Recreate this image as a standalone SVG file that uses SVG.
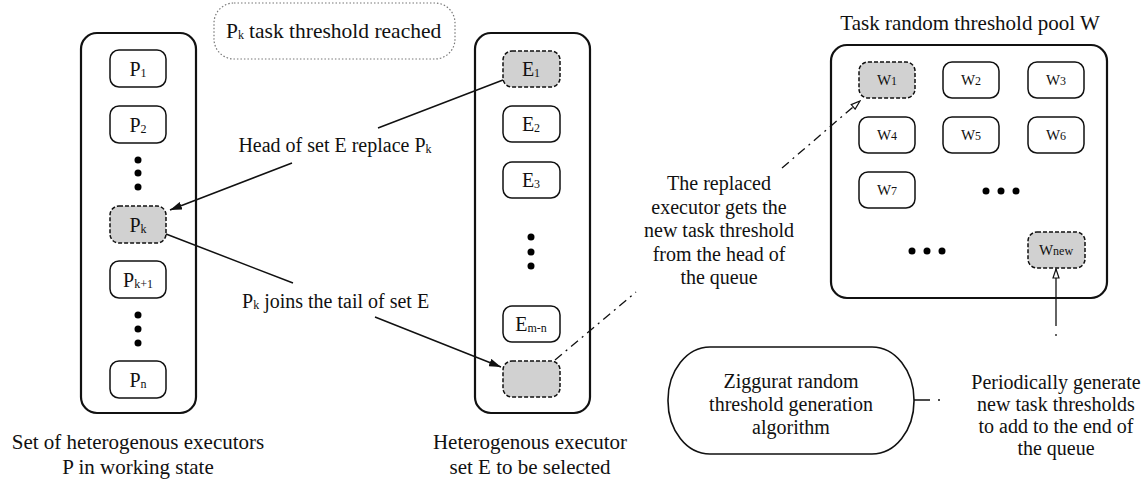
<svg xmlns="http://www.w3.org/2000/svg" width="1146" height="484" viewBox="0 0 1146 484" font-family="'Liberation Serif', 'Times New Roman', 'DejaVu Serif', serif">
<style>
text{font-family:"Liberation Serif","Times New Roman","DejaVu Serif",serif;fill:#111}
.lbl{font-size:20px}
.cap{font-size:21px}
.bx{font-size:20px;text-anchor:middle}
.wl{font-size:15px;text-anchor:middle}
.sub{font-size:12px}
.cont{fill:#fff;stroke:#111;stroke-width:2.2}
.node{fill:#fff;stroke:#111;stroke-width:1.5}
.hot{fill:#d1d1d1;stroke:#111;stroke-width:1.5;stroke-dasharray:4 2}
.conn{fill:none;stroke:#111;stroke-width:1.5}
.dd{fill:none;stroke:#111;stroke-width:1.3;stroke-dasharray:9 5 2 5}
</style>
<defs>
<marker id="ah" markerUnits="userSpaceOnUse" viewBox="0 0 12 8" refX="12" refY="4" markerWidth="12" markerHeight="8" orient="auto"><path d="M0,0 L12,4 L0,8 z" fill="#111"/></marker>
<marker id="oh" markerUnits="userSpaceOnUse" viewBox="0 0 11 8" refX="10" refY="4" markerWidth="11" markerHeight="8" orient="auto"><path d="M1,1 L10,4 L1,7 z" fill="#fff" stroke="#111" stroke-width="1.2"/></marker>
</defs>

<g id="noteReached">
<rect x="214" y="3" width="241" height="56" rx="20" fill="#fff" stroke="#777" stroke-width="1.2" stroke-dasharray="1.5 2"/>
<text x="226" y="38" font-size="21.5">P<tspan class="sub" dy="1">k</tspan><tspan x="249" dy="-1">task threshold reached</tspan></text>
</g>

<g id="setP">
<rect class="cont" x="81" y="33" width="115" height="380" rx="16"/>
<text class="cap" x="138" y="449" text-anchor="middle">Set of heterogenous executors</text>
<text class="cap" x="138" y="474" text-anchor="middle">P in working state</text>
</g>
<g id="P1"><rect class="node" x="110" y="50" width="56" height="37" rx="9"/><text class="bx" x="138" y="76">P<tspan class="sub" dy="1">1</tspan></text></g>
<g id="P2"><rect class="node" x="110" y="106" width="56" height="37" rx="9"/><text class="bx" x="138" y="132">P<tspan class="sub" dy="1">2</tspan></text></g>
<g id="dotsP1"><circle cx="138" cy="160" r="3.5"/><circle cx="138" cy="173" r="3.5"/><circle cx="138" cy="187" r="3.5"/></g>
<g id="Pk"><rect class="hot" x="110" y="206" width="56" height="37" rx="9"/><text class="bx" x="138" y="232">P<tspan class="sub" dy="1">k</tspan></text></g>
<g id="Pk1"><rect class="node" x="110" y="261" width="56" height="37" rx="9"/><text class="bx" x="138" y="287">P<tspan class="sub" dy="1">k+1</tspan></text></g>
<g id="dotsP2"><circle cx="138" cy="315" r="3.5"/><circle cx="138" cy="329" r="3.5"/><circle cx="138" cy="343" r="3.5"/></g>
<g id="Pn"><rect class="node" x="110" y="361" width="56" height="37" rx="9"/><text class="bx" x="138" y="387">P<tspan class="sub" dy="1">n</tspan></text></g>

<g id="setE">
<rect class="cont" x="475" y="33" width="115" height="380" rx="16"/>
<text class="cap" x="530" y="449" text-anchor="middle">Heterogenous executor</text>
<text class="cap" x="530" y="474" text-anchor="middle">set E to be selected</text>
</g>
<g id="E1"><rect class="hot" x="503" y="51" width="57" height="36" rx="9"/><text class="bx" x="531" y="76">E<tspan class="sub" dy="1">1</tspan></text></g>
<g id="E2"><rect class="node" x="503" y="106" width="57" height="36" rx="9"/><text class="bx" x="531" y="131">E<tspan class="sub" dy="1">2</tspan></text></g>
<g id="E3"><rect class="node" x="503" y="162" width="57" height="36" rx="9"/><text class="bx" x="531" y="187">E<tspan class="sub" dy="1">3</tspan></text></g>
<g id="dotsE"><circle cx="531" cy="237" r="3.5"/><circle cx="531" cy="252" r="3.5"/><circle cx="531" cy="266" r="3.5"/></g>
<g id="Emn"><rect class="node" x="503" y="306" width="57" height="36" rx="9"/><text class="bx" x="531" y="331">E<tspan class="sub" dy="1">m-n</tspan></text></g>
<g id="Etail"><rect class="hot" x="503" y="361" width="57" height="36" rx="9"/></g>

<g id="poolW">
<rect class="cont" x="831" y="45" width="276" height="253" rx="16"/>
<text class="cap" x="970" y="30" text-anchor="middle">Task random threshold pool W</text>
</g>
<g id="W1"><rect class="hot" x="859" y="62" width="56" height="36" rx="9"/><text class="wl" x="887" y="85">W<tspan class="sub">1</tspan></text></g>
<g id="W2"><rect class="node" x="943" y="62" width="56" height="36" rx="9"/><text class="wl" x="971" y="85">W<tspan class="sub">2</tspan></text></g>
<g id="W3"><rect class="node" x="1028" y="62" width="56" height="36" rx="9"/><text class="wl" x="1056" y="85">W<tspan class="sub">3</tspan></text></g>
<g id="W4"><rect class="node" x="859" y="117" width="56" height="36" rx="9"/><text class="wl" x="887" y="140">W<tspan class="sub">4</tspan></text></g>
<g id="W5"><rect class="node" x="943" y="117" width="56" height="36" rx="9"/><text class="wl" x="971" y="140">W<tspan class="sub">5</tspan></text></g>
<g id="W6"><rect class="node" x="1028" y="117" width="56" height="36" rx="9"/><text class="wl" x="1056" y="140">W<tspan class="sub">6</tspan></text></g>
<g id="W7"><rect class="node" x="859" y="172" width="56" height="36" rx="9"/><text class="wl" x="887" y="195">W<tspan class="sub">7</tspan></text></g>
<g id="dotsW1"><circle cx="986" cy="191" r="3.5"/><circle cx="1001" cy="191" r="3.5"/><circle cx="1016" cy="191" r="3.5"/></g>
<g id="dotsW2"><circle cx="912" cy="251" r="3.5"/><circle cx="927" cy="251" r="3.5"/><circle cx="942" cy="251" r="3.5"/></g>
<g id="Wnew"><rect class="hot" x="1028" y="232" width="57" height="36" rx="9"/><text class="wl" x="1056" y="255">W<tspan class="sub">new</tspan></text></g>

<g id="ziggurat">
<rect x="668" y="347" width="246" height="107" rx="42" ry="53" fill="#fff" stroke="#111" stroke-width="1.6"/>
<text class="lbl" x="791" y="388" text-anchor="middle">Ziggurat random</text>
<text class="lbl" x="791" y="411" text-anchor="middle">threshold generation</text>
<text class="lbl" x="791" y="434" text-anchor="middle">algorithm</text>
</g>

<g id="connectors">
<path class="conn" d="M503,80 L378,128 M292,163 L170,210" marker-end="url(#ah)"/>
<text class="lbl" x="335" y="152" text-anchor="middle">Head of set E replace P<tspan class="sub" dy="1">k</tspan></text>
<path class="conn" d="M166,234 L293,283 M375,317 L501,367" marker-end="url(#ah)"/>
<text class="lbl" x="242" y="308">P<tspan class="sub" dy="1">k</tspan><tspan dy="-1"> joins the tail of set E</tspan></text>
<path class="dd" d="M555,360 L636,292"/>
<path class="dd" d="M782,168 L860,101" marker-end="url(#oh)"/>
<g class="lbl" text-anchor="middle">
<text x="719" y="190">The replaced</text>
<text x="719" y="213.5">executor gets the</text>
<text x="719" y="237">new task threshold</text>
<text x="719" y="260.5">from the head of</text>
<text x="719" y="284">the queue</text>
</g>
<path fill="none" stroke="#111" stroke-width="1.3" stroke-dasharray="16 8 2 100" d="M914,400 L944,400"/>
<path fill="none" stroke="#111" stroke-width="1.3" stroke-dasharray="2 8 80" d="M1056,336 L1056,269" marker-end="url(#oh)"/>
<g class="lbl" text-anchor="middle">
<text x="1056" y="389">Periodically generate</text>
<text x="1056" y="411">new task thresholds</text>
<text x="1056" y="433">to add to the end of</text>
<text x="1056" y="455">the queue</text>
</g>
</g>
</svg>
